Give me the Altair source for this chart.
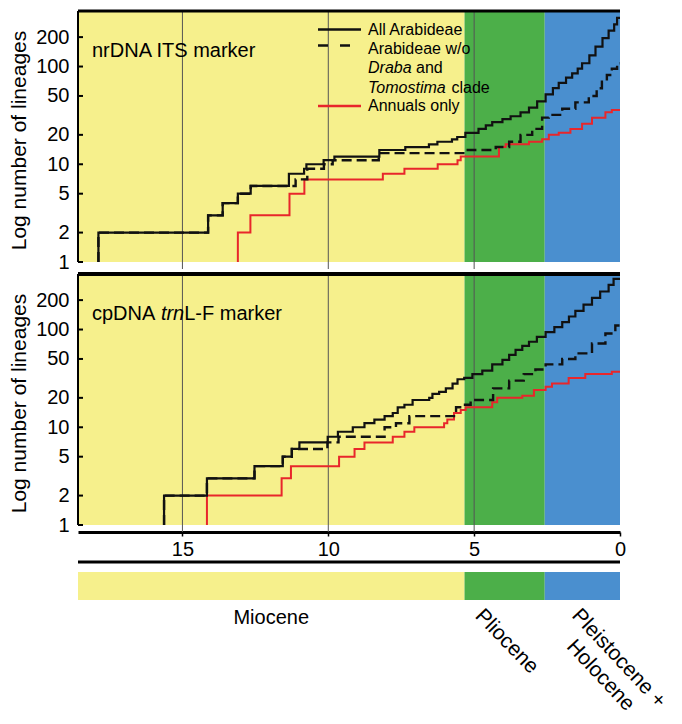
import math
import altair as alt
import pandas as pd

# ---------------- data (ages in Ma, number of lineages) ----------------
ITS_ALL_AGE = [17.88, 14.12, 13.62, 13.10, 12.66, 11.35, 10.83, 10.75, 10.16, 9.79, 8.25, 7.36, 6.55, 6.26,
               5.76, 5.58, 5.30, 4.85, 4.60, 4.38, 4.03, 3.75, 3.41, 3.12, 2.84, 2.55, 2.30, 2.10, 1.85, 1.64,
               1.45, 1.30, 1.05, 0.84, 0.60, 0.39, 0.20, 0.10]
ITS_ALL_N = [2, 3, 4, 5, 6, 8, 9, 10, 11, 12, 14, 15, 16, 17, 18, 19, 21, 23, 25, 27, 29, 31, 34, 38, 44, 52,
             60, 68, 77, 85, 95, 108, 130, 160, 195, 233, 270, 315]

ITS_WO_AGE = [17.88, 14.12, 13.62, 13.10, 12.66, 11.12, 10.72, 10.15, 9.85, 8.27, 5.22, 4.26, 3.80, 3.41,
              3.01, 2.67, 2.44, 1.98, 1.53, 1.07, 0.80, 0.62, 0.45, 0.28, 0.10]
ITS_WO_N = [2, 3, 4, 5, 6, 7, 9, 10, 11, 13, 14, 15, 17, 20, 23, 30, 32, 37, 43, 50, 60, 70, 82, 95, 108]

ITS_ANN_AGE = [13.10, 12.67, 11.33, 10.82, 8.13, 7.39, 6.25, 5.57, 5.46, 4.15, 3.92, 3.12, 2.67, 2.44, 2.10,
               1.70, 1.30, 0.96, 0.50, 0.28]
ITS_ANN_N = [2, 3, 5, 7, 8, 9, 10, 11, 12, 15, 16, 17, 18, 20, 21, 23, 26, 30, 34, 36]

TRN_ALL_AGE = [15.63, 14.16, 12.53, 11.56, 11.25, 10.99, 10.02, 9.67, 9.16, 8.76, 8.42, 8.07, 7.79, 7.62,
               7.39, 7.11, 6.54, 6.43, 6.20, 5.97, 5.74, 5.57, 5.34, 5.06, 4.72, 4.38, 4.03, 3.80, 3.58,
               3.35, 3.12, 2.85, 2.55, 2.25, 1.98, 1.75, 1.53, 1.25, 0.96, 0.68, 0.39, 0.22]
TRN_ALL_N = [2, 3, 4, 5, 6, 7, 8, 9, 10, 11, 12, 13, 14, 16, 17, 19, 20, 22, 23, 25, 28, 31, 32, 35, 38, 44,
             49, 55, 62, 68, 75, 84, 94, 106, 119, 136, 155, 180, 211, 245, 286, 330]

TRN_WO_AGE = [15.63, 14.16, 12.53, 11.56, 11.25, 10.03, 9.65, 8.07, 7.68, 7.22, 5.62, 5.40, 5.12, 4.35,
              3.80, 3.30, 2.90, 2.55, 1.98, 1.53, 0.96, 0.50, 0.16]
TRN_WO_N = [2, 3, 4, 5, 6, 7, 8, 10, 11, 13, 16, 17, 19, 25, 30, 35, 39, 44, 50, 57, 72, 91, 110]

TRN_ANN_AGE = [14.16, 11.60, 11.28, 9.63, 9.10, 8.76, 7.79, 7.39, 7.05, 6.03, 5.92, 5.69, 5.46, 5.29, 4.38,
               4.21, 3.35, 2.95, 2.55, 2.33, 1.76, 1.19, 0.28]
TRN_ANN_N = [2, 3, 4, 5, 6, 7, 8, 9, 10, 11, 12, 14, 15, 16, 18, 20, 21, 24, 26, 28, 32, 35, 37]

X_MAX = 18.58
Y_TOP = 370
Y_TICKS = [1, 2, 5, 10, 20, 50, 100, 200]
X_TICKS = [15, 10, 5, 0]
GRID_AGES = [15, 10, 5]

EPOCH_LABELS = ["Miocene", "Pliocene", "Pleistocene +\nHolocene"]
EPOCH_START = [X_MAX, 5.33, 2.58]
EPOCH_END = [5.33, 2.58, 0.0]
EPOCH_COLORS = ["#f6f08c", "#4caf49", "#4a8fcf"]

LEGEND_LABELS = ["All Arabideae", "Arabideae w/o", "Draba", "and", "Tomostima", "clade", "Annuals only"]
PANEL_LABELS = [["nrDNA ITS marker"], ["cpDNA", "trn", "L-F marker"]]
Y_TITLE = "Log number of lineages"

# ---------------- layout / style ----------------
FONT = "Liberation Sans, Arial, Helvetica, sans-serif"
W, H, GAP = 542, 258, 7
px_dec = (H - GAP) / math.log10(Y_TOP)
Y_LO = 10 ** (-GAP / px_dec)
BLACK, RED, GRIDC = "#111111", "#e8262b", "#555555"

xscale = alt.Scale(domain=[X_MAX, 0], nice=False, zero=False)
yscale = alt.Scale(type="log", domain=[Y_LO, Y_TOP], nice=False)
yaxis = alt.Axis(values=Y_TICKS, format="d", title=Y_TITLE, domain=False, ticks=False, tickSize=0,
                 grid=False, labelFontSize=20, labelColor="black", labelPadding=9,
                 titleFontSize=21, titleFontWeight="normal", titleColor="black", titlePadding=6)
xaxis_bottom = alt.Axis(values=X_TICKS, format="d", title=None, grid=False, domain=True,
                        domainColor="black", domainWidth=3, ticks=True, tickColor="black", tickSize=4,
                        tickWidth=1.5, labelFontSize=20, labelColor="black", labelPadding=3,
                        labelFlush=False)


def series_df(ages, counts):
    a = [ages[0]] + list(ages) + [0.0]
    n = [1] + list(counts) + [counts[-1]]
    return pd.DataFrame({"age": a, "n": n, "i": list(range(len(a)))})


epoch_df = pd.DataFrame({"name": EPOCH_LABELS, "start": EPOCH_START, "end": EPOCH_END,
                         "color": EPOCH_COLORS})
epoch_df["mid"] = (epoch_df["start"] + epoch_df["end"]) / 2
one = pd.DataFrame({"k": [0]})


def txt(s, x, y, size, style="normal", align="left", baseline="middle"):
    return alt.Chart(pd.DataFrame({"s": [s]})).mark_text(
        align=align, baseline=baseline, fontSize=size, fontStyle=style, color="black"
    ).encode(x=alt.value(x), y=alt.value(y), text="s:N")


def hrule(y, x0=0, x1=W, width=3, dash=None, color="black"):
    kw = dict(color=color, strokeWidth=width)
    if dash:
        kw["strokeDash"] = dash
    return alt.Chart(one).mark_rule(**kw).encode(x=alt.value(x0), x2=alt.value(x1), y=alt.value(y))


def panel(all_df, wo_df, ann_df, top, bottom):
    xaxis = xaxis_bottom if bottom else None

    def X(f):
        return alt.X(f, type="quantitative", scale=xscale, axis=xaxis)

    def Y(f):
        return alt.Y(f, type="quantitative", scale=yscale, axis=yaxis)

    def Yd(v):
        return alt.YDatum(v, type="quantitative", scale=yscale, axis=yaxis)

    layers = []
    layers.append(alt.Chart(epoch_df).mark_rect().encode(
        x=X("start"), x2="end", y=Yd(1), y2=alt.value(0),
        color=alt.Color("color:N", scale=None)))
    layers.append(alt.Chart(pd.DataFrame({"age": GRID_AGES})).mark_rule(color=GRIDC, strokeWidth=1).encode(
        x=X("age"), y=alt.value(0), y2=alt.value(H)))
    layers.append(alt.Chart(one).mark_rule(color="black", strokeWidth=2).encode(
        x=alt.value(0), y=Yd(1), y2=alt.value(0)))
    layers.append(alt.Chart(pd.DataFrame({"v": Y_TICKS})).mark_rule(color="black", strokeWidth=2).encode(
        x=alt.value(0), x2=alt.value(5), y=Y("v")))
    layers.append(hrule(0, width=3 if top else 4))
    layers.append(alt.Chart(ann_df).mark_line(color=RED, strokeWidth=2, interpolate="step-after").encode(
        x=X("age"), y=Y("n"), order="i:Q"))
    layers.append(alt.Chart(wo_df).mark_line(color=BLACK, strokeWidth=2.4, strokeDash=[10, 5],
                                             interpolate="step-after").encode(
        x=X("age"), y=Y("n"), order="i:Q"))
    layers.append(alt.Chart(all_df).mark_line(color=BLACK, strokeWidth=2.2, interpolate="step-after").encode(
        x=X("age"), y=Y("n"), order="i:Q"))

    if top:
        layers.append(txt(PANEL_LABELS[0][0], 14, 46, 20, baseline="alphabetic"))
        # legend
        lx0, lx1, tx = 240, 283, 290
        layers.append(hrule(18.5, lx0, lx1, width=2.4, color=BLACK))
        layers.append(hrule(34.5, lx0, lx1, width=2.6, dash=[10, 12], color=BLACK))
        layers.append(hrule(95, lx0, lx1, width=2.4, color=RED))
        layers.append(txt(LEGEND_LABELS[0], tx, 18.5, 16))
        layers.append(txt(LEGEND_LABELS[1], tx, 37.5, 16))
        layers.append(txt(LEGEND_LABELS[2], tx, 57, 16, style="italic"))
        layers.append(txt(LEGEND_LABELS[3], tx + 48, 57, 16))
        layers.append(txt(LEGEND_LABELS[4], tx, 76.5, 16, style="italic"))
        layers.append(txt(LEGEND_LABELS[5], tx + 83.5, 76.5, 16))
        layers.append(txt(LEGEND_LABELS[6], tx, 95, 16))
    else:
        p = PANEL_LABELS[1]
        layers.append(txt(p[0], 14, 46, 20, baseline="alphabetic"))
        layers.append(txt(p[1], 14 + 68.9, 46, 20, style="italic", baseline="alphabetic"))
        layers.append(txt(p[2], 14 + 68.9 + 23.3, 46, 20, baseline="alphabetic"))

    if bottom:
        layers.append(hrule(H + 30))
        layers.append(alt.Chart(epoch_df).mark_rect().encode(
            x=X("start"), x2="end", y=alt.value(H + 40), y2=alt.value(H + 68),
            color=alt.Color("color:N", scale=None)))
        layers.append(alt.Chart(epoch_df.iloc[[0]]).mark_text(
            align="center", baseline="middle", fontSize=20, color="black").encode(
            x=X("mid"), y=alt.value(H + 86), text="name:N"))
        layers.append(alt.Chart(epoch_df.iloc[[1]]).mark_text(
            align="left", baseline="top", fontSize=21, color="black", angle=46, xOffset=22).encode(
            x=X("start"), y=alt.value(H + 73), text="name:N"))
        layers.append(alt.Chart(epoch_df.iloc[[2]]).mark_text(
            align="center", baseline="top", fontSize=21, color="black", angle=47, xOffset=82,
            lineBreak="\n", lineHeight=25).encode(
            x=X("start"), y=alt.value(H + 119), text="name:N"))

    return alt.layer(*layers).properties(width=W, height=H)


top_panel = panel(series_df(ITS_ALL_AGE, ITS_ALL_N), series_df(ITS_WO_AGE, ITS_WO_N),
                  series_df(ITS_ANN_AGE, ITS_ANN_N), top=True, bottom=False)
bottom_panel = panel(series_df(TRN_ALL_AGE, TRN_ALL_N), series_df(TRN_WO_AGE, TRN_WO_N),
                     series_df(TRN_ANN_AGE, TRN_ANN_N), top=False, bottom=True)

chart = alt.vconcat(top_panel, bottom_panel, spacing=0).properties(
    padding={"left": 0, "top": 1, "right": 0, "bottom": 0}
).configure(font=FONT).configure_view(stroke=None)

chart.save("out.html", embed_options={"renderer": "svg", "actions": False})
